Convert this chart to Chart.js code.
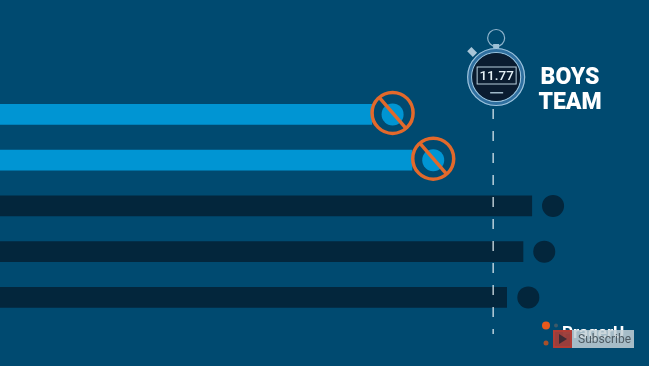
<!DOCTYPE html>
<html>
<head>
<meta charset="utf-8">
<script src="https://cdn.jsdelivr.net/npm/chart.js@4"></script>
<style>
    html, body { margin: 0; padding: 0; background: #004a70; overflow: hidden; }
    canvas { display: block; }
</style>
</head>
<body>
<canvas id="raceChart" width="649" height="366"></canvas>
<script>
// times in seconds. empty slots keep the lanes spaced like the video frame
const lanes = ["", "", "Runner 1", "Runner 2", "Runner 3", "Runner 4", "Runner 5", ""];
const barTimes = [null, null, 8.88, 9.84, 12.70, 12.49, 12.10, null];
const dotTimes = [null, null, 9.37, 10.34, 13.20, 12.99, 12.61, null];
const crossedOut = [false, false, true, true, false, false, false, false];
const barColors = ["#0095d3", "#0095d3", "#0095d3", "#0095d3", "#03263c", "#03263c", "#03263c", "#03263c"];
const teamTime = 11.77;
const teamLabel = ["BOYS", "TEAM"];
const axisMax = 15.49;

const fontName = "Roboto, sans-serif";

const background = {
    id: "background",
    beforeDraw(chart) {
        const c = chart.ctx;
        c.fillStyle = "#004a70";
        c.fillRect(0, 0, chart.width, chart.height);
    }
};

function drawStopwatch(c, x) {
    const y = 77;
    c.save();
    // top ring and stem
    c.strokeStyle = "#8fb4cc";
    c.lineWidth = 1.2;
    c.beginPath();
    c.arc(x + 3, 38, 8.5, 0, Math.PI * 2);
    c.stroke();
    c.fillStyle = "#9cc0d6";
    c.fillRect(x, 44, 6, 5);
    // side button
    c.save();
    c.translate(x - 21, 52);
    c.rotate(-Math.PI / 4);
    c.fillStyle = "#a9c6d8";
    c.fillRect(-3, -4, 6, 8);
    c.restore();
    // case
    c.lineWidth = 5;
    c.strokeStyle = "#2f6f9f";
    c.beginPath();
    c.arc(x + 3, y, 26.5, 0, Math.PI * 2);
    c.stroke();
    c.lineWidth = 1.2;
    c.strokeStyle = "#9cc3dc";
    c.beginPath();
    c.arc(x + 3, y, 28.5, 0, Math.PI * 2);
    c.stroke();
    c.beginPath();
    c.arc(x + 3, y, 24.5, 0, Math.PI * 2);
    c.stroke();
    c.fillStyle = "#0a1c30";
    c.beginPath();
    c.arc(x + 3, y, 24, 0, Math.PI * 2);
    c.fill();
    // screen
    c.strokeStyle = "#b7cfdd";
    c.lineWidth = 1;
    c.strokeRect(x - 16, 67, 39, 17);
    c.fillStyle = "#e6f1f6";
    c.font = "500 13.5px " + fontName;
    c.textAlign = "center";
    c.textBaseline = "middle";
    c.fillText(teamTime.toFixed(2), x + 3.5, 76.5);
    c.fillStyle = "#9fb8c8";
    c.fillRect(x - 3, 92, 13, 1.5);
    c.restore();
}

const overlay = {
    id: "overlay",
    afterDatasetsDraw(chart) {
        const c = chart.ctx;
        const xs = chart.scales.x;
        const ys = chart.scales.y;

        // rings over the disqualified dots
        crossedOut.forEach((flag, i) => {
            if (!flag) return;
            const px = xs.getPixelForValue(dotTimes[i]);
            const py = ys.getPixelForValue(i) - 1.5;
            c.save();
            c.strokeStyle = "#e2692b";
            c.lineWidth = 3.5;
            c.beginPath();
            c.arc(px, py, 20.5, 0, Math.PI * 2);
            c.stroke();
            c.beginPath();
            c.moveTo(px - 13, py - 15);
            c.lineTo(px + 13, py + 15);
            c.stroke();
            c.restore();
        });

        // dashed line at the team time
        const lineX = xs.getPixelForValue(teamTime);
        c.save();
        c.strokeStyle = "#e6f0f5";
        c.lineWidth = 1.2;
        c.setLineDash([10, 12]);
        c.beginPath();
        c.moveTo(lineX, 109);
        c.lineTo(lineX, 334);
        c.stroke();
        c.restore();

        drawStopwatch(c, lineX);

        c.save();
        c.fillStyle = "#ffffff";
        c.font = "900 23px " + fontName;
        c.textAlign = "center";
        c.textBaseline = "middle";
        c.fillText(teamLabel[0], 570, 78);
        c.fillText(teamLabel[1], 570, 103);
        c.restore();

        // logo with the subscribe button on top of it
        c.save();
        c.fillStyle = "#e8591c";
        c.beginPath();
        c.arc(546, 325.5, 4, 0, Math.PI * 2);
        c.fill();
        c.fillStyle = "#a8502a";
        c.beginPath();
        c.arc(546, 343, 2.5, 0, Math.PI * 2);
        c.fill();
        c.fillStyle = "#3f5a68";
        c.beginPath();
        c.arc(556, 325.5, 2, 0, Math.PI * 2);
        c.fill();
        c.fillStyle = "#ffffff";
        c.font = "bold 17px " + fontName;
        c.textAlign = "left";
        c.textBaseline = "middle";
        c.fillText("PragerU", 562, 334);
        c.fillStyle = "rgba(195,208,214,0.85)";
        c.fillRect(553, 330, 81, 18);
        c.fillStyle = "rgba(150,40,35,0.85)";
        c.fillRect(553, 330, 19, 18);
        c.strokeStyle = "rgba(190,60,50,0.9)";
        c.lineWidth = 1.5;
        c.strokeRect(554, 331, 17, 16);
        c.fillStyle = "#3d2b35";
        c.beginPath();
        c.moveTo(559, 334);
        c.lineTo(567, 339);
        c.lineTo(559, 344);
        c.closePath();
        c.fill();
        c.fillStyle = "#4d5a62";
        c.font = "12px " + fontName;
        c.fillText("Subscribe", 578, 339.5);
        c.restore();
    }
};

new Chart(document.getElementById("raceChart"), {
    type: "bar",
    data: {
        labels: lanes,
        datasets: [
            {
                type: "line",
                label: "Finish",
                data: dotTimes,
                indexAxis: "y",
                showLine: false,
                pointRadius: 11,
                pointBorderWidth: 0,
                pointBackgroundColor: barColors,
                order: 1
            },
            {
                label: "Time",
                data: barTimes,
                backgroundColor: barColors,
                borderWidth: 0,
                barPercentage: 0.45,
                categoryPercentage: 1,
                order: 2
            }
        ]
    },
    options: {
        indexAxis: "y",
        responsive: false,
        animation: false,
        layout: { padding: 0, autoPadding: false },
        plugins: {
            legend: { display: false },
            tooltip: { enabled: false }
        },
        scales: {
            x: { display: false, min: 0, max: axisMax },
            y: { display: false }
        }
    },
    plugins: [background, overlay]
});
</script>
</body>
</html>
